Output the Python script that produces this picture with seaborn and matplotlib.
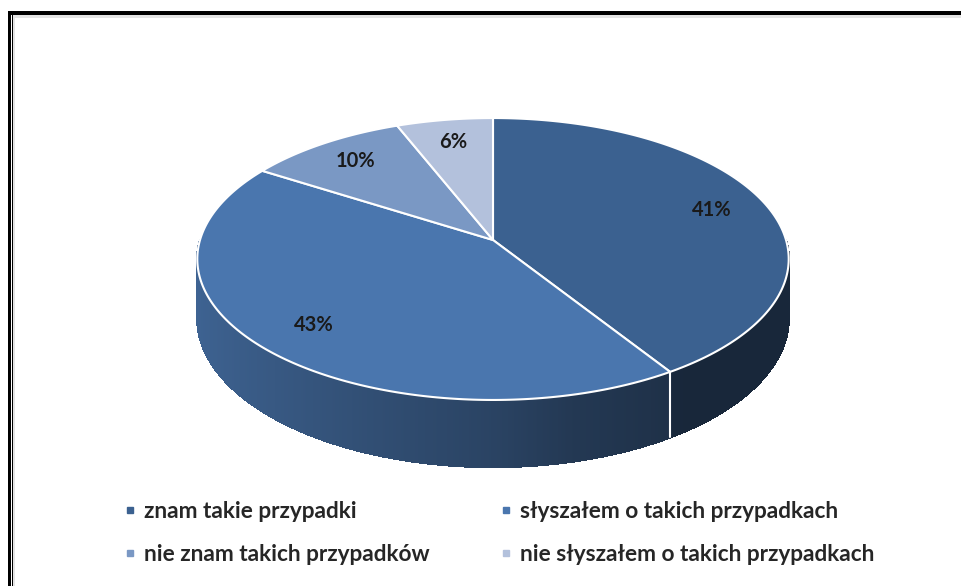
import numpy as np
import matplotlib
matplotlib.use("Agg")
import matplotlib.pyplot as plt
import matplotlib.colors as mcolors
import seaborn as sns
from matplotlib.collections import PolyCollection
from matplotlib.lines import Line2D
from matplotlib.patches import Rectangle

categories = ["znam takie przypadki", "słyszałem o takich przypadkach",
              "nie znam takich przypadków", "nie słyszałem o takich przypadkach"]
shares = [41, 43, 10, 6]
pct_labels = ["41%", "43%", "10%", "6%"]
colors = ["#3B6190", "#4A76AE", "#7A98C4", "#B3C1DC"]

sns.set_theme(style="white")
plt.rcParams["font.family"] = ["Lato", "DejaVu Sans"]

fig = plt.figure(figsize=(9.62, 5.86), dpi=100)
ax = fig.add_axes([0, 0, 1, 1])
ax.set_xlim(0, 962)
ax.set_ylim(586, 0)
ax.axis("off")

CX, CY, RX, RY, P, DEPTH = 493, 240, 293, 138.4, 0.1348, 58


def proj(theta_deg, r=1.0, z=0.0):
    t = np.radians(theta_deg)
    c, s = np.cos(t) * r, np.sin(t) * r
    den = 1 + P * s
    return CX + RX * c / den, CY - RY * s / den + z * DEPTH / den


total = sum(shares)
ends = 90 - 360 * np.cumsum(shares) / total
starts = np.r_[90, ends[:-1]]

# side walls (front half only)
shade_cos = [-1, -0.42, 0, 0.23, 0.6, 1]
shade_fac = [0.84, 0.68, 0.57, 0.48, 0.40, 0.40]
for st, en, col in zip(starts, ends, colors):
    a, b = min(st, 0), max(en, -180)
    if a <= b:
        continue
    th = np.linspace(a, b, max(int((a - b) * 4), 2))
    polys, fcs = [], []
    base = np.array(mcolors.to_rgb(col))
    for t0, t1 in zip(th[:-1], th[1:]):
        polys.append([proj(t0), proj(t1), proj(t1, z=1), proj(t0, z=1)])
        cm = np.cos(np.radians((t0 + t1) / 2))
        fcs.append(base * np.interp(cm, shade_cos, shade_fac))
    ax.add_collection(PolyCollection(polys, facecolors=fcs, edgecolors=fcs,
                                     linewidths=1.0, antialiaseds=False,
                                     zorder=1))

# white separators on the side wall
for e in ends:
    if -180 < e < 0:
        x0, y0 = proj(e)
        x1, y1 = proj(e, z=1)
        ax.plot([x0, x1], [y0, y1], color="white", lw=1.5, zorder=1.5)

# top faces
for st, en, col, lab in zip(starts, ends, colors, pct_labels):
    th = np.linspace(st, en, 200)
    pts = [proj(0, r=0)] + [proj(t) for t in th]
    xs, ys = zip(*pts)
    ax.fill(xs, ys, facecolor=col, edgecolor="white", lw=1.5, zorder=2)
    lx, ly = proj((st + en) / 2, r=0.8)
    ax.text(lx, ly, lab, ha="center", va="center", fontsize=14.5,
            fontweight="bold", color="#1a1a1a", zorder=3)

# frame
ax.add_patch(Rectangle((13, 15), 949, 2.5, color="#e4e4e4", lw=0, zorder=0))
ax.add_patch(Rectangle((13, 15), 2.5, 571, color="#e4e4e4", lw=0, zorder=0))
ax.add_patch(Rectangle((8, 11), 954, 4, color="black", lw=0, zorder=4))
ax.add_patch(Rectangle((8, 11), 3, 575, color="black", lw=0, zorder=4))
ax.add_patch(Rectangle((12, 13), 1.2, 573, color="black", lw=0, zorder=4))

# legend
order = [0, 2, 1, 3]
handles = [Line2D([], [], marker="s", ls="", markersize=5,
                  markerfacecolor=colors[i], markeredgecolor=colors[i]) for i in order]
labels = [categories[i] for i in order]
fig.legend(handles, labels, ncol=2, loc="upper left",
           bbox_to_anchor=(125 / 962, 1 - 501 / 586), frameon=False,
           prop={"size": 16.3, "weight": "bold"}, handlelength=0.42,
           handletextpad=0.42, columnspacing=3.15, labelspacing=0.95,
           borderpad=0, borderaxespad=0)

fig.savefig("out.png", dpi=100)
